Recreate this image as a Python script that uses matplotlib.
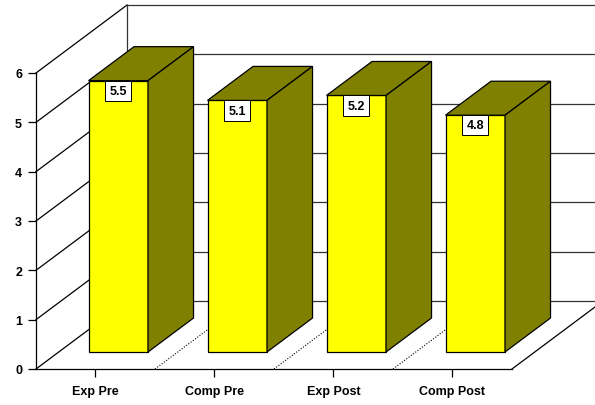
import numpy as np
import matplotlib
matplotlib.use("Agg")
import matplotlib.pyplot as plt
from matplotlib.patches import Polygon

plt.rcParams['font.family'] = ['Liberation Sans', 'DejaVu Sans']

categories = ["Exp Pre", "Comp Pre", "Exp Post", "Comp Post"]
values = [5.5, 5.1, 5.2, 4.8]
y_ticks = [0, 1, 2, 3, 4, 5, 6]

# depth of the fake 3d box, in data units (x: categories, y: values)
depth_x = 0.765
depth_y = 1.378
bar_w = 0.5
front, back = 0.25, 0.75

fig = plt.figure(figsize=(5.95, 4.06), dpi=100)
ax = fig.add_axes([0, 0, 1, 1])
ax.set_xlim(-0.8025, 4.1975)
ax.set_ylim(-0.73, 7.5)

n = len(categories)
x_lo, x_hi = -0.5, n - 0.5
y_top = y_ticks[-1]

# back wall gridlines and left edge
for v in y_ticks:
    ax.plot([x_lo + depth_x, x_hi + depth_x], [v + depth_y, v + depth_y],
            color="#333333", lw=0.9, zorder=1)
    # side wall lines
    ax.plot([x_lo, x_lo + depth_x], [v, v + depth_y], color="black", lw=0.9, zorder=1)
ax.plot([x_lo + depth_x, x_lo + depth_x], [depth_y, y_top + depth_y],
        color="#333333", lw=0.9, zorder=1)

# floor right edge
ax.plot([x_hi, x_hi + depth_x], [0, depth_y], color="black", lw=0.9, zorder=1)

# dotted floor dividers
for k in range(1, n):
    xb = x_lo + k
    ax.plot([xb, xb + depth_x], [0, depth_y], color="black", lw=0.8,
            ls=(0, (1, 1.5)), zorder=1)

# bars
for i, v in enumerate(values):
    x0 = i - bar_w / 2
    x1 = i + bar_w / 2
    fx, fy = front * depth_x, front * depth_y
    bx, by = back * depth_x, back * depth_y
    face = Polygon([(x0 + fx, fy), (x1 + fx, fy), (x1 + fx, v + fy), (x0 + fx, v + fy)],
                   closed=True, facecolor="#ffff00", edgecolor="black", lw=0.9, zorder=3)
    top = Polygon([(x0 + fx, v + fy), (x1 + fx, v + fy), (x1 + bx, v + by), (x0 + bx, v + by)],
                  closed=True, facecolor="#808000", edgecolor="black", lw=0.9, zorder=3)
    side = Polygon([(x1 + fx, fy), (x1 + bx, by), (x1 + bx, v + by), (x1 + fx, v + fy)],
                   closed=True, facecolor="#808000", edgecolor="black", lw=0.9, zorder=3)
    for p in (face, top, side):
        ax.add_patch(p)
    ax.annotate(f"{v:.1f}", xy=(i + fx, v + fy), xytext=(0, -7.3),
                textcoords="offset points", ha="center", va="center",
                fontsize=9, fontweight="bold", zorder=5,
                bbox=dict(boxstyle="square,pad=0.33", facecolor="white",
                          edgecolor="black", lw=0.7))

# axes
for s in ["top", "right"]:
    ax.spines[s].set_visible(False)
ax.spines["left"].set_position(("data", x_lo))
ax.spines["left"].set_bounds(0, y_top)
ax.spines["bottom"].set_position(("data", 0))
ax.spines["bottom"].set_bounds(x_lo, x_hi)
for s in ["left", "bottom"]:
    ax.spines[s].set_linewidth(0.9)
    ax.spines[s].set_zorder(2)

ax.set_xticks(range(n))
ax.set_xticklabels(categories)
ax.set_yticks(y_ticks)
ax.tick_params(axis="both", direction="out", length=6, width=0.9, labelsize=9)
ax.tick_params(axis="x", pad=5.5)
ax.tick_params(axis="y", pad=4)
for lab in ax.get_xticklabels() + ax.get_yticklabels():
    lab.set_fontweight("bold")

fig.savefig("out.png", dpi=100)
